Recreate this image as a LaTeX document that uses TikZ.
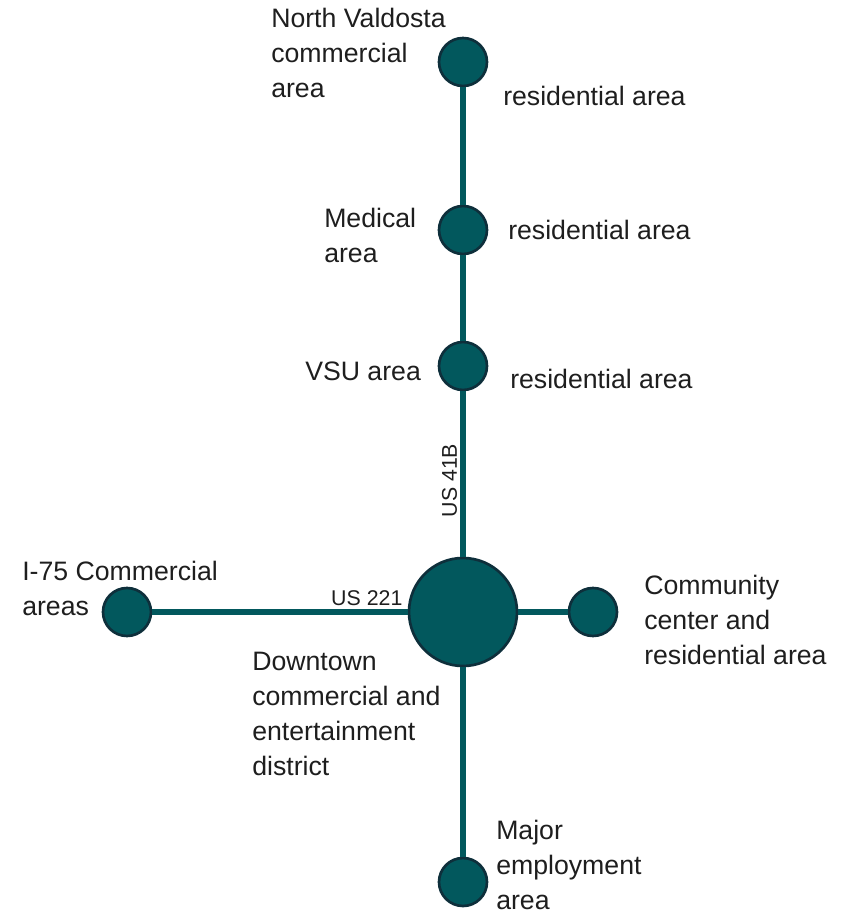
\documentclass[tikz,border=0pt]{standalone}
\usepackage{fontspec}
\setmainfont{Liberation Sans}
\definecolor{teal}{HTML}{02585D}
\definecolor{rim}{HTML}{0E2F3B}
\definecolor{ink}{HTML}{1E1E1E}
\tikzset{
  stop/.style={circle, draw=rim, fill=teal, line width=2pt, minimum size=36pt, inner sep=0pt},
  hubstop/.style={stop, minimum size=81pt},
  road/.style={draw=teal, line width=4.8pt},
  place/.style={anchor=west, align=left, inner sep=0pt, text=ink, font=\fontsize{20}{26.25}\selectfont},
  roadname/.style={text=ink, font=\fontsize{16}{18}\selectfont, inner sep=2pt}
}
\begin{document}
\begin{tikzpicture}[x=0.75pt, y=-0.75pt]
        \useasboundingbox (0, 0) rectangle (856, 916);
        % stops along the corridor
        \node[stop] (nv) at (463, 62) {};
        \node[stop] (med) at (463, 230) {};
        \node[stop] (vsu) at (463, 366) {};
        \node[hubstop] (hub) at (463, 612) {};
        \node[stop] (west) at (127, 612) {};
        \node[stop] (east) at (593, 612) {};
        \node[stop] (south) at (463, 882) {};
        % roads
        \draw[road] (nv) -- (med);
        \draw[road] (med) -- (vsu);
        \draw[road] (hub) -- node[roadname, sloped, above, pos=0.46] {US 41B} (vsu);
        \draw[road] (hub) -- (south);
        \draw[road] (west) -- node[roadname, above, pos=0.84] {US 221} (hub);
        \draw[road] (hub) -- (east);
        % labels
        \node[place] (nvtext) at (271, 53) {North Valdosta\\commercial\\area};
        \node[place] (nvres) at (503, 96) {residential area};
        \node[place] (medtext) at (324, 235) {Medical\\area};
        \node[place] (medres) at (508, 230) {residential area};
        \node[place] (vsutext) at (305, 371) {VSU area};
        \node[place] (vsures) at (510, 379) {residential area};
        \node[place] (westtext) at (22, 588) {I-75 Commercial\\areas};
        \node[place] (easttext) at (644, 620) {Community\\center and\\residential area};
        \node[place] (hubtext) at (252, 714) {Downtown\\commercial and\\entertainment\\district};
        \node[place] (southtext) at (496, 865) {Major\\employment\\area};
\end{tikzpicture}
\end{document}
